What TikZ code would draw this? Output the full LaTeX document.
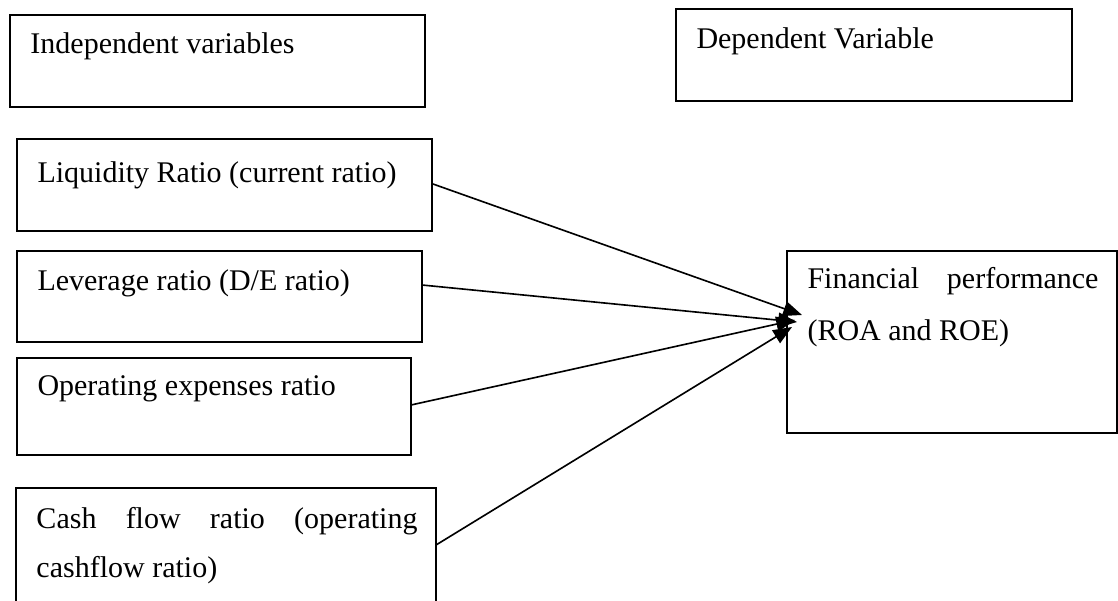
\documentclass[tikz,border=0pt]{standalone}
\usepackage{fontspec}
\setmainfont{Liberation Serif}
\usetikzlibrary{arrows.meta,calc}
\begin{document}
\begin{tikzpicture}[x=0.4pt,y=-0.4pt,
 box/.style={draw,line width=0.8pt,rectangle,anchor=north west,inner sep=0pt,outer sep=0pt},
 txt/.style={anchor=base west,inner sep=0pt,font=\fontsize{12}{14}\selectfont},
 conn/.style={line width=0.65pt,-{Triangle[length=7.5pt,width=6pt]}}]
\useasboundingbox (0,0) rectangle (1118,600);
\clip (0,0) rectangle (1118,600);
% boxes
\node[box,minimum width=166pt,minimum height=36.8pt] (indep) at (10,15) {};
\node[box,minimum width=158.4pt,minimum height=36.8pt] (dep) at (676,9) {};
\node[box,minimum width=166pt,minimum height=36.8pt] (liq) at (17,139) {};
\node[box,minimum width=162pt,minimum height=36.4pt] (lev) at (17,251) {};
\node[box,minimum width=157.6pt,minimum height=38.8pt] (opr) at (17,358) {};
\node[box,minimum width=168pt,minimum height=45.6pt] (cash) at (16,488) {};
\node[box,minimum width=132pt,minimum height=72.8pt] (fin) at (787,251) {};
% texts
\node[txt] (indepT) at ($(indep.north west)+(20,38)$) {Independent variables};
\node[txt] (depT) at ($(dep.north west)+(20,39)$) {Dependent Variable};
\node[txt] (liqT) at ($(liq.north west)+(20,43)$) {Liquidity Ratio (current ratio)};
\node[txt] (levT) at ($(lev.north west)+(20,39)$) {Leverage ratio (D/E ratio)};
\node[txt] (oprT) at ($(opr.north west)+(20,37)$) {Operating expenses ratio};
\node[txt] (cashT1) at ($(cash.north west)+(20,40)$) {\makebox[152.4pt][s]{Cash flow ratio (operating}};
\node[txt] (cashT2) at ($(cash.north west)+(20,89)$) {cashflow ratio)};
\node[txt] (finT1) at ($(fin.north west)+(20,37)$) {\makebox[116.4pt][s]{Financial performance}};
\node[txt] (finT2) at ($(fin.north west)+(20,89)$) {(ROA and ROE)};
% arrow tips
\coordinate (t1) at (802,315);
\coordinate (t2) at (797,322);
\coordinate (t3) at (795,320);
\coordinate (t4) at (792,327);
\draw[conn] ($(liq.north east)+(1,45)$) -- (t1);
\draw[conn] ($(lev.north east)+(0,34)$) -- (t2);
\draw[conn] ($(opr.north east)+(0,47)$) -- (t3);
\draw[conn] ($(cash.north east)+(0,57)$) -- (t4);
\end{tikzpicture}
\end{document}
